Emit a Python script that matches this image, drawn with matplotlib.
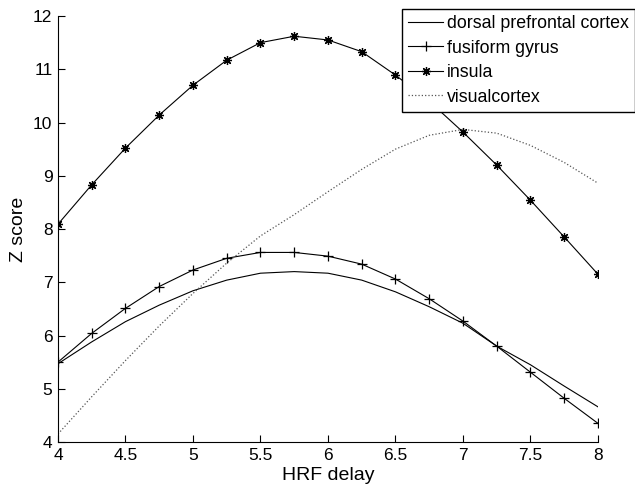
import numpy as np
import matplotlib
import matplotlib.pyplot as plt
matplotlib.use('Agg')

plt.rcParams['font.family'] = ['Liberation Sans', 'DejaVu Sans']

# HRF delay values
hrf_delay = [4.0, 4.25, 4.5, 4.75, 5.0, 5.25, 5.5, 5.75, 6.0,
             6.25, 6.5, 6.75, 7.0, 7.25, 7.5, 7.75, 8.0]

# Z scores
dorsal = [5.47, 5.88, 6.26, 6.57, 6.84, 7.04, 7.17, 7.20, 7.17,
          7.04, 6.82, 6.54, 6.23, 5.80, 5.45, 5.05, 4.66]
fusiform = [5.50, 6.04, 6.51, 6.92, 7.23, 7.45, 7.56, 7.56, 7.49,
            7.34, 7.06, 6.69, 6.27, 5.80, 5.31, 4.82, 4.35]
insula = [8.09, 8.83, 9.52, 10.14, 10.70, 11.17, 11.50, 11.62, 11.55,
          11.33, 10.89, 10.40, 9.82, 9.20, 8.54, 7.85, 7.15]
visual = [4.15, 4.85, 5.53, 6.18, 6.79, 7.36, 7.87, 8.27, 8.70,
          9.12, 9.50, 9.76, 9.87, 9.80, 9.57, 9.25, 8.86]

fig = plt.figure(figsize=(6.35, 4.91), dpi=100)
ax = fig.add_axes([0.0913, 0.0998, 0.8504, 0.8676])

ax.plot(hrf_delay, dorsal, '-', color='k', lw=0.8, label='dorsal prefrontal cortex')
ax.plot(hrf_delay, fusiform, '-', color='k', lw=0.8, marker='+', ms=7, mew=0.9,
        label='fusiform gyrus')
ax.plot(hrf_delay, insula, '-', color='k', lw=0.8, marker=(8, 2, 0), ms=6.5, mew=0.9,
        label='insula')
ax.plot(hrf_delay, visual, ':', color='#555555', lw=0.9, label='visualcortex')

ax.set_xlim(4, 8)
ax.set_ylim(4, 12)
ax.set_xticks([4, 4.5, 5, 5.5, 6, 6.5, 7, 7.5, 8])
ax.set_xticklabels(['4', '4.5', '5', '5.5', '6', '6.5', '7', '7.5', '8'])
ax.set_yticks(range(4, 13))
ax.tick_params(direction='in', length=5, width=0.8, labelsize=12.5, pad=4)
ax.spines['top'].set_visible(False)
ax.spines['right'].set_visible(False)
for s in ['left', 'bottom']:
    ax.spines[s].set_linewidth(0.8)

ax.set_xlabel('HRF delay', fontsize=14, labelpad=3)
ax.set_ylabel('Z score', fontsize=14, labelpad=4)

leg = ax.legend(loc='upper right', bbox_to_anchor=(1.0, 1 - 9 / 491),
                bbox_transform=fig.transFigure, borderaxespad=0,
                fontsize=12.8, fancybox=False, framealpha=1, edgecolor='k',
                handlelength=2.0, handletextpad=0.2, labelspacing=0.42,
                borderpad=0.35)
leg.get_frame().set_linewidth(1.0)

fig.savefig('out.png', dpi=100)
